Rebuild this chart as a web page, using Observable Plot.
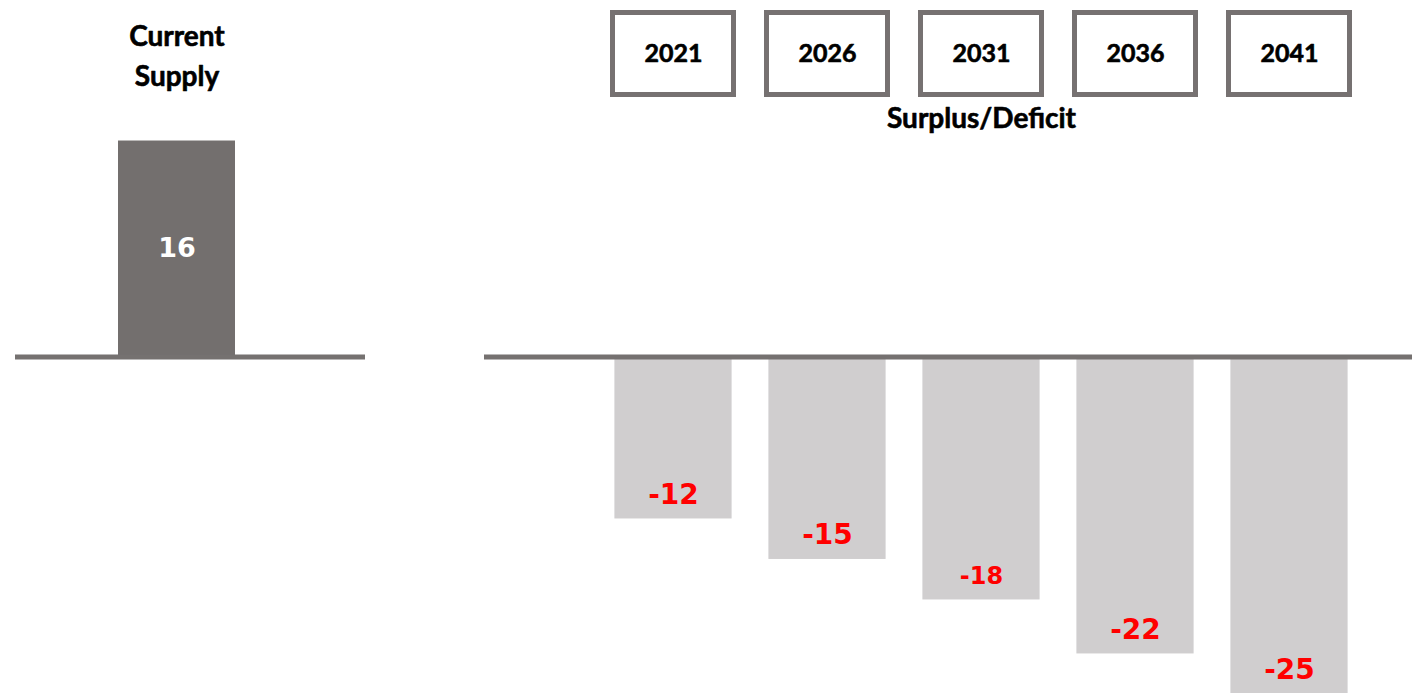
<!DOCTYPE html>
<html>
<head>
<meta charset="utf-8">
<script src="https://cdn.jsdelivr.net/npm/d3@7"></script>
<script src="https://cdn.jsdelivr.net/npm/@observablehq/plot@0.6"></script>
<style>
  html, body { margin: 0; padding: 0; background: #fff; }
  #wrap { position: relative; width: 1412px; height: 693px; overflow: hidden; }
  #left { position: absolute; left: 0; top: 0; }
  #right { position: absolute; left: 484px; top: 0; }
  svg { display: block; }
</style>
</head>
<body>
<div id="wrap"><div id="left"></div><div id="right"></div></div>
<script>
// ---- data ----
const supplyCategories = ["Current Supply"];
const supplyValues = [16];
const years = ["2021", "2026", "2031", "2036", "2041"];
const deficitValues = [-12, -15, -18, -22, -25];
const panelTitle = "Surplus/Deficit";

const supply = supplyCategories.map((c, i) => ({cat: c, value: supplyValues[i]}));
const deficits = years.map((y, i) => ({year: y, value: deficitValues[i]}));

const H = 693;
const yScale = {domain: [-24.93, 26.41], range: [H, 0]};
const headFont = "Lato, 'Open Sans', sans-serif";
const valueFont = "'DejaVu Sans', 'Liberation Sans', sans-serif";
const baseColor = "#757170";
const headStyle = {fontWeight: "bold", fontFamily: headFont, fill: "#000", stroke: "#000", strokeWidth: 0.6};

// ---- left panel: current supply ----
const left = Plot.plot({
  width: 380, height: H,
  marginTop: 0, marginBottom: 0, marginLeft: 15, marginRight: 15,
  x: {domain: supplyCategories, range: [103, 250], padding: 0, axis: null},
  y: {...yScale, axis: null},
  style: {background: "transparent"},
  marks: [
    Plot.barY(supply, {x: "cat", y1: 0, y2: "value", fill: "#736f6e", insetLeft: 15, insetRight: 15}),
    Plot.ruleY([0], {stroke: baseColor, strokeWidth: 5}),
    Plot.text(supply, {x: "cat", y: d => d.value / 2, text: d => String(d.value), dy: -1,
      fill: "#fff", fontSize: 27, fontWeight: "bold", fontFamily: valueFont}),
    Plot.text(supply, {x: "cat", text: d => d.cat.replace(" ", "\n"), frameAnchor: "top", dy: 53,
      lineAnchor: "middle", lineHeight: 1.43, fontSize: 28, ...headStyle})
  ]
});
document.getElementById("left").append(left);

// ---- right panel: surplus/deficit ----
const right = Plot.plot({
  width: 928, height: H,
  marginTop: 0, marginBottom: 0, marginLeft: 0, marginRight: 0,
  x: {domain: years, range: [110.6, 884.4], padding: 0, axis: null},
  y: {...yScale, axis: null},
  style: {background: "transparent"},
  marks: [
    Plot.barY(deficits, {x: "year", y1: 0, y2: "value", fill: "#d0cecf", insetLeft: 18.4, insetRight: 18.4}),
    Plot.ruleY([0], {stroke: baseColor, strokeWidth: 5}),
    Plot.text(deficits, {x: "year", y: "value", text: d => String(d.value), dy: -24,
      fill: "#ff0000", fontSize: (d, i) => i === 2 ? 24 : 28, fontWeight: "bold", fontFamily: valueFont}),
    Plot.cell(years, {x: d => d, fill: "none", stroke: "#767171", strokeWidth: 5,
      insetLeft: 16.5, insetRight: 16.5, insetTop: 12.5, insetBottom: H - 94.5}),
    Plot.text(years, {x: d => d, text: d => d, frameAnchor: "top", dy: 53, lineAnchor: "middle",
      fontSize: 25, ...headStyle}),
    Plot.text([panelTitle], {x: () => years[2], text: d => d, frameAnchor: "top", dy: 119, lineAnchor: "middle",
      fontSize: 28, ...headStyle})
  ]
});
document.getElementById("right").append(right);
</script>
</body>
</html>
